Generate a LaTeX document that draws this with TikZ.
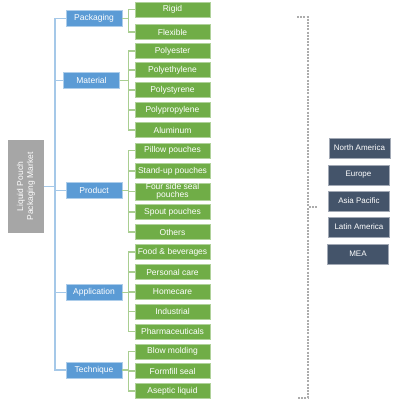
\documentclass[tikz,border=0pt]{standalone}
\usepackage{fontspec}
\setmainfont{Liberation Sans}
\definecolor{catblue}{HTML}{5B9BD5}
\definecolor{leafgreen}{HTML}{70AD47}
\definecolor{regionslate}{HTML}{44546A}
\begin{document}
\begin{tikzpicture}[
    x=1pt, y=-1pt,
    market/.style={rectangle, fill=gray!70, text=white, rotate=90, minimum width=93pt, minimum height=36pt, align=center, font=\fontsize{8.5}{10}\selectfont},
    segment/.style={rectangle, draw=catblue!50, fill=catblue, text=white, minimum width=56pt, minimum height=16pt, inner sep=0pt, font=\fontsize{8.5}{10}\selectfont},
    item/.style={rectangle, draw=leafgreen!55, fill=leafgreen, text=white, minimum width=75pt, minimum height=15pt, inner sep=0pt, align=center, font=\fontsize{8.5}{8}\selectfont},
    region/.style={rectangle, draw=regionslate!50, fill=regionslate, text=white, minimum width=61pt, minimum height=20pt, inner sep=0pt, font=\fontsize{8}{10}\selectfont},
    trunk/.style={draw=catblue!55, line width=1.5pt},
    branch/.style={draw=leafgreen!60, line width=1.3pt},
    bracket/.style={draw=gray!65, line width=1.6pt, dash pattern=on 2pt off 1.2pt}
]
    \useasboundingbox (0,0) rectangle (400,400);

    % root and segments
    \node[market] (root) at (26,186.5) {Liquid Pouch\\Packaging Market};
    \node[segment] (pack) at (94,18.5) {Packaging};
    \node[segment] (mat) at (91.5,80.5) {Material};
    \node[segment] (prod) at (94,190.5) {Product};
    \node[segment] (app) at (94,292.5) {Application};
    \node[segment] (tech) at (94,370) {Technique};

    \draw[trunk] (root.south) -- ++(11,0) |- (pack.west);
    \draw[trunk] (root.south) -- ++(11,0) |- (mat.west);
    \draw[trunk] (root.south) -- ++(11,0) |- (prod.west);
    \draw[trunk] (root.south) -- ++(11,0) |- (app.west);
    \draw[trunk] (root.south) -- ++(11,0) |- (tech.west);

    % packaging
    \node[item] (rigid) at (172.5,9.5) {Rigid};
    \node[item] (flex) at (172.5,32) {Flexible};
    \draw[branch] (pack.east) -- ++(6,0) |- (rigid.west);
    \draw[branch] (pack.east) -- ++(6,0) |- (flex.west);

    % material
    \node[item] (polyes) at (172.5,51) {Polyester};
    \node[item] (polyeth) at (172.5,70) {Polyethylene};
    \node[item] (polysty) at (172.5,90) {Polystyrene};
    \node[item] (polyprop) at (172.5,110) {Polypropylene};
    \node[item] (alu) at (172.5,130) {Aluminum};
    \draw[branch] (mat.east) -- ++(8.5,0) |- (polyes.west);
    \draw[branch] (mat.east) -- ++(8.5,0) |- (polyeth.west);
    \draw[branch] (mat.east) -- ++(8.5,0) |- (polysty.west);
    \draw[branch] (mat.east) -- ++(8.5,0) |- (polyprop.west);
    \draw[branch] (mat.east) -- ++(8.5,0) |- (alu.west);

    % product
    \node[item] (pillow) at (172.5,150.5) {Pillow pouches};
    \node[item] (standup) at (172.5,171) {Stand-up pouches};
    \node[item, minimum height=17pt] (foursided) at (172.5,191.5) {Four side seal\\pouches};
    \node[item] (spout) at (172.5,212) {Spout pouches};
    \node[item] (others) at (172.5,232) {Others};
    \draw[branch] (prod.east) -- ++(6,0) |- (pillow.west);
    \draw[branch] (prod.east) -- ++(6,0) |- (standup.west);
    \draw[branch] (prod.east) -- ++(6,0) |- (foursided.west);
    \draw[branch] (prod.east) -- ++(6,0) |- (spout.west);
    \draw[branch] (prod.east) -- ++(6,0) |- (others.west);

    % application
    \node[item] (food) at (172.5,252) {Food \& beverages};
    \node[item] (personal) at (172.5,272) {Personal care};
    \node[item] (home) at (172.5,292) {Homecare};
    \node[item] (indus) at (172.5,311.5) {Industrial};
    \node[item] (pharma) at (172.5,331.5) {Pharmaceuticals};
    \draw[branch] (app.east) -- ++(6,0) |- (food.west);
    \draw[branch] (app.east) -- ++(6,0) |- (personal.west);
    \draw[branch] (app.east) -- ++(6,0) |- (home.west);
    \draw[branch] (app.east) -- ++(6,0) |- (indus.west);
    \draw[branch] (app.east) -- ++(6,0) |- (pharma.west);

    % technique
    \node[item] (blow) at (172.5,351.5) {Blow molding};
    \node[item] (formfill) at (172.5,371) {Formfill seal};
    \node[item] (aseptic) at (172.5,391) {Aseptic liquid};
    \draw[branch] (tech.east) -- ++(6,0) |- (blow.west);
    \draw[branch] (tech.east) -- ++(6,0) |- (formfill.west);
    \draw[branch] (tech.east) -- ++(6,0) |- (aseptic.west);

    % regions
    \coordinate (bracetop) at (297,17);
    \coordinate (bracebot) at (297,398);
    \coordinate (bracetip) at (317,207);
    \draw[bracket] (bracetop) -- ++(11,0) |- (bracebot);
    \draw[bracket] (bracetip) -- ++(-9,0);

    \node[region] (na) at (359.5,148) {North America};
    \node[region] (eu) at (358.5,175) {Europe};
    \node[region] (apac) at (359,201) {Asia Pacific};
    \node[region] (latam) at (359,227) {Latin America};
    \node[region] (mea) at (358,254) {MEA};
\end{tikzpicture}
\end{document}
